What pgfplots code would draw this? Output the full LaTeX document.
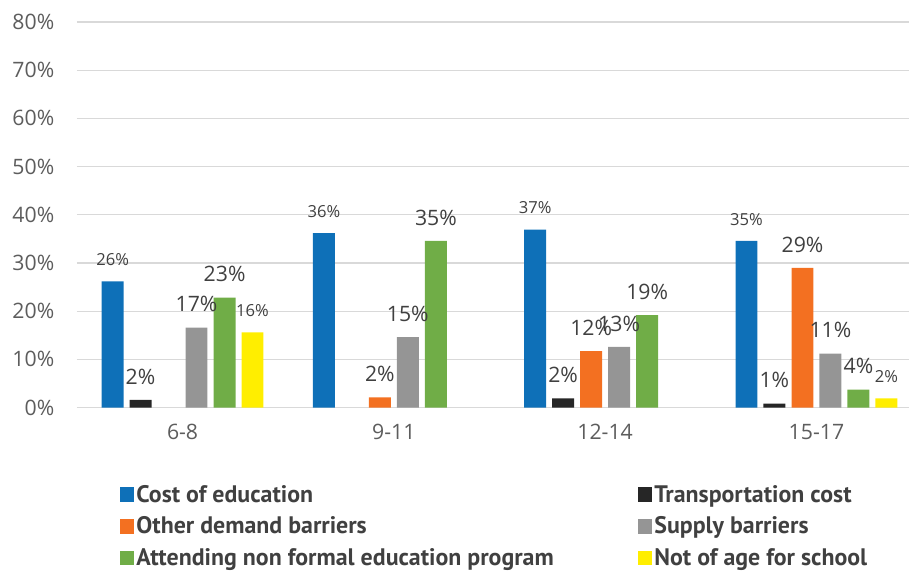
\documentclass[border=0pt]{standalone}
\usepackage{pgfplots}
\pgfplotsset{compat=1.18}
\usepackage{fontspec}
\setmainfont{Open Sans}
\newfontfamily\legfont{PT Sans}
\usetikzlibrary{calc}

\definecolor{cCost}{HTML}{0E70B8}
\definecolor{cTrans}{HTML}{262626}
\definecolor{cOther}{HTML}{F37021}
\definecolor{cSupply}{HTML}{959595}
\definecolor{cAttend}{HTML}{70AD47}
\definecolor{cAge}{HTML}{FFEE00}
\definecolor{gridc}{HTML}{D9D9D9}
\definecolor{txt}{HTML}{404040}

\begin{document}
\begin{tikzpicture}
\begin{axis}[name=ax,
  scale only axis, width=625bp, height=289.5bp,
  ybar, bar width=0.104,
  xmin=-0.5, xmax=3.44, ymin=0, ymax=80,
  xtick={0,1,2,3}, xticklabels={6-8,9-11,12-14,15-17},
  ytick={0,10,...,80},
  yticklabel={\pgfmathprintnumber{\tick}\%},
  /pgf/number format/assume math mode=true,
  axis lines*=left, x axis line style={gridc, line width=0.9bp},
  y axis line style={draw=none},
  major tick length=0pt,
  ymajorgrids, grid style={gridc, line width=0.9bp},
  tick label style={font=\fontsize{16}{19}\selectfont, text=txt!85},
  xticklabel style={yshift=-9bp},
  yticklabel style={xshift=-13.5bp},
  nodes near coords={\pgfmathprintnumber[fixed,precision=0]{\pgfplotspointmeta}\%},
  nodes near coords style={text=txt, inner sep=0pt, anchor=south, yshift=11.5bp,
    font=\fontsize{16}{19}\selectfont},
  legend columns=2, legend cell align=left,
  legend style={draw=none, fill=none, at={(rel axis cs:0,0)}, anchor=north west,
    xshift=29bp, yshift=-54bp, text=txt,
    font=\legfont\bfseries\fontsize{18}{21}\selectfont,
    row sep=5.5bp, /tikz/column 2/.style={column sep=61bp}},
  legend image code/.code={\fill[#1] (0bp,-5.5bp) rectangle (10.5bp,5.5bp);},
]
\addplot[fill=cCost, draw=none, bar shift=-0.331,
  every node near coord/.append style={font=\fontsize{12.5}{15}\selectfont}]
  coordinates {(0,26.2) (1,36.2) (2,36.9) (3,34.6)};
\addplot[fill=cTrans, draw=none, bar shift=-0.199]
  coordinates {(0,1.6) (2,1.9) (3,0.8)};
\addplot[fill=cOther, draw=none, bar shift=-0.066]
  coordinates {(1,2.1) (2,11.7) (3,29.0)};
\addplot[fill=cSupply, draw=none, bar shift=0.066]
  coordinates {(0,16.6) (1,14.6) (2,12.6) (3,11.2)};
\addplot[fill=cAttend, draw=none, bar shift=0.199]
  coordinates {(0,22.8) (1,34.6) (2,19.2) (3,3.7)};
\addplot[fill=cAge, draw=none, bar shift=0.331,
  every node near coord/.append style={font=\fontsize{12.5}{15}\selectfont}]
  coordinates {(0,15.6) (3,1.9)};
\legend{Cost of education, Transportation cost, Other demand barriers,
  Supply barriers, Attending non formal education program, Not of age for school}
\end{axis}
\path[use as bounding box] ($(ax.south west)+(-57.75bp,-121.5bp)$) rectangle ($(ax.north east)+(0bp,16.5bp)$);
\end{tikzpicture}
\end{document}
